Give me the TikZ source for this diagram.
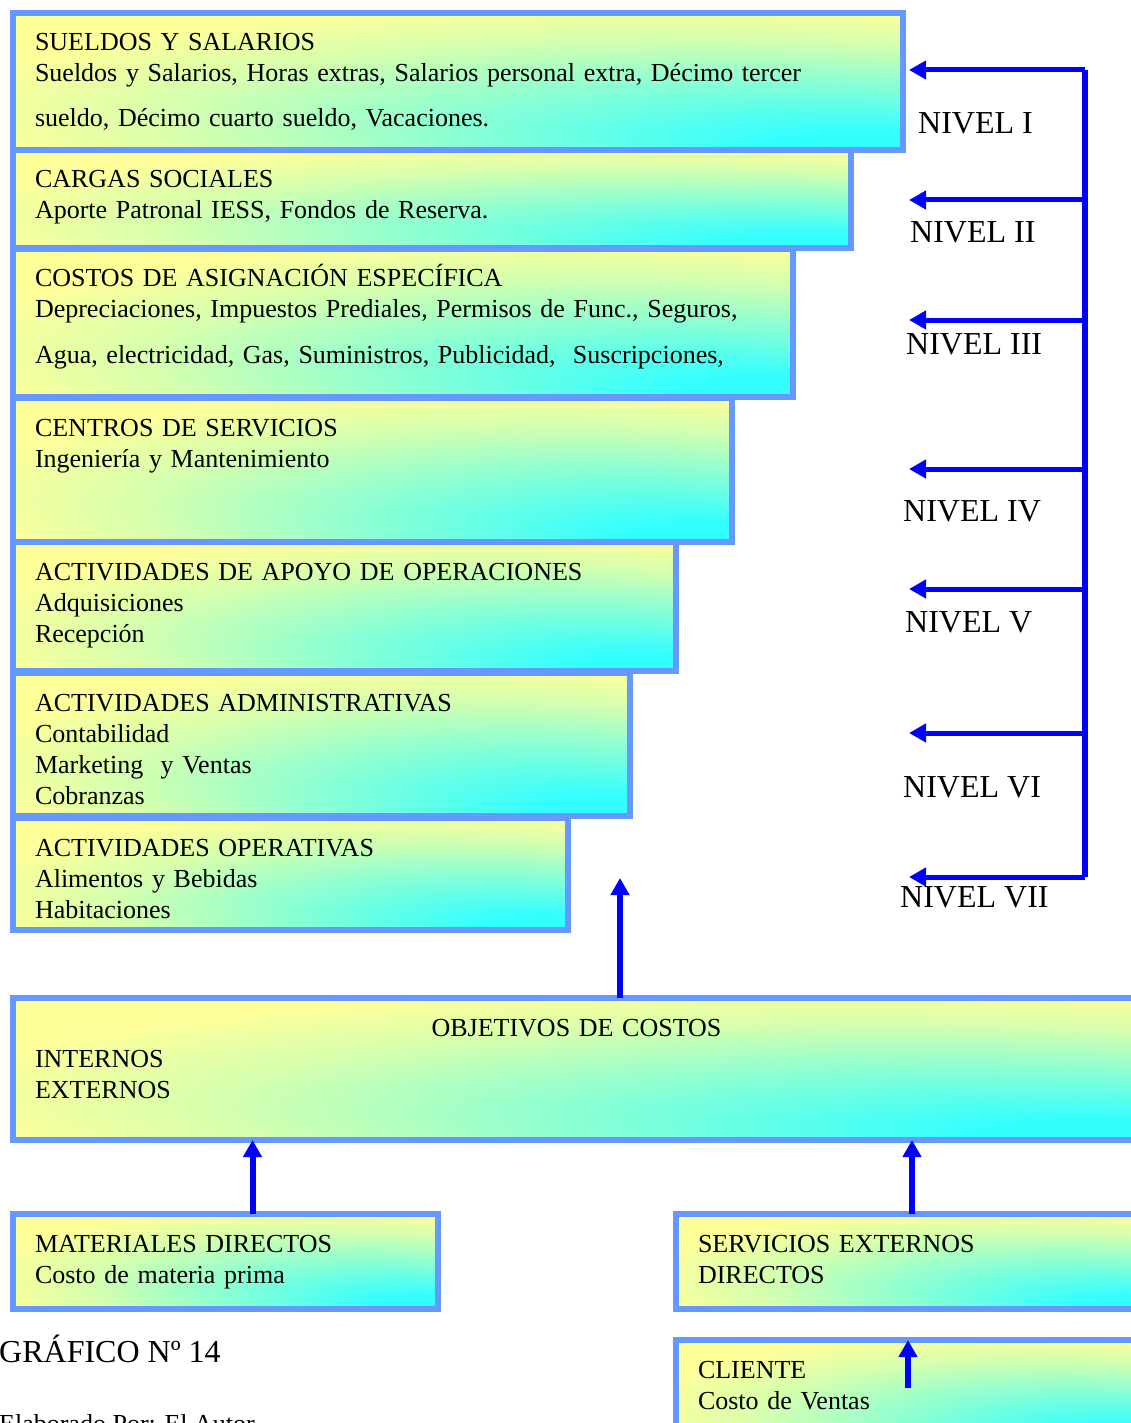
\documentclass[tikz,border=0pt]{standalone}
\usepackage{fontspec}
\setmainfont{Liberation Serif}
\usetikzlibrary{arrows.meta}

\definecolor{amarillo}{HTML}{FFFF99}
\definecolor{cian}{HTML}{33FFFF}
\definecolor{bordeazul}{HTML}{6699FF}

\pgfdeclareradialshading{nivel}{\pgfpoint{25bp}{-25bp}}{%
  color(0bp)=(cian); color(5bp)=(cian); color(20bp)=(cian!50!amarillo);
  color(29bp)=(cian!20!amarillo); color(38bp)=(amarillo); color(60bp)=(amarillo)}

\begin{document}
\begin{tikzpicture}[x=1pt,y=-1pt]

\useasboundingbox (0,0) rectangle (1131,1423);

\tikzset{%
  caja/.style 2 args={draw=bordeazul,line width=6pt,shade,shading=nivel,
    anchor=north west,outer sep=0pt,inner xsep=22pt,inner ysep=12pt,
    align=left,font=\fontsize{26}{31}\selectfont,
    text width=#1pt-44pt,text height=26pt,text depth=#2pt-50pt},
}

\node[caja={890}{137}] (sueldos) at (13,13) {SUELDOS Y SALARIOS\\
  Sueldos y Salarios, Horas extras, Salarios personal extra, Décimo tercer\\[14pt]
  sueldo, Décimo cuarto sueldo, Vacaciones.};
\node[caja={838}{98}] (cargas) at (13,150) {CARGAS SOCIALES\\
  Aporte Patronal IESS, Fondos de Reserva.};
\node[caja={780}{148}] (asignacion) at (13,249) {COSTOS DE ASIGNACIÓN ESPECÍFICA\\
  Depreciaciones, Impuestos Prediales, Permisos de Func., Seguros,\\[15pt]
  Agua, electricidad, Gas, Suministros, Publicidad,~ Suscripciones,};
\node[caja={719}{144}] (centros) at (13,398) {CENTROS DE SERVICIOS\\
  Ingeniería y Mantenimiento};
\node[caja={663}{129}] (apoyo) at (13,542) {ACTIVIDADES DE APOYO DE OPERACIONES\\
  Adquisiciones\\Recepción};
\node[caja={617}{143}] (admin) at (13,673) {ACTIVIDADES ADMINISTRATIVAS\\
  Contabilidad\\Marketing~ y Ventas\\Cobranzas};
\node[caja={555}{112}] (operativas) at (13,818) {ACTIVIDADES OPERATIVAS\\
  Alimentos y Bebidas\\Habitaciones};

\node[caja={1127}{142}] (objetivos) at (13,998) {%
  \makebox[\linewidth]{OBJETIVOS DE COSTOS}\\INTERNOS\\EXTERNOS};
\node[caja={425}{95}] (materiales) at (13,1214) {MATERIALES DIRECTOS\\
  Costo de materia prima};
\node[caja={472}{95}] (externos) at (676,1214) {SERVICIOS EXTERNOS\\DIRECTOS};
\node[caja={472}{100}] (cliente) at (676,1340) {CLIENTE\\Costo de Ventas};

\tikzset{flecha/.style={draw=blue,line width=6pt,-{Triangle[length=17pt,width=18pt]}}}
\tikzset{rama/.style={flecha,line width=5pt}}

\foreach \n/\y in {1/70,2/200,3/320,4/469,5/589,6/733,7/877} {
  \coordinate (eje\n) at (1085,\y);
  \coordinate (punta\n) at (909,\y);
}
\draw[draw=blue,line width=6pt] (eje1) -- (eje7);
\foreach \n in {1,...,7}
  \draw[rama] (eje\n) -- (punta\n);

\tikzset{nivel/.style={anchor=base west,inner sep=0pt,font=\fontsize{32}{38}\selectfont}}
\foreach \n/\t/\x/\y in {1/I/918/134,2/II/910/243,3/III/906/354,4/IV/903/521,
    5/V/905/632,6/VI/903/797,7/VII/900/907}
  \node[nivel] (nivel\n) at (\x,\y) {NIVEL \t};

\coordinate (puntaobj) at (620,878);
\draw[flecha] (objetivos.north -| puntaobj) -- (puntaobj);
\draw[flecha] ([xshift=27pt]materiales.north) -- ([xshift=27pt]materiales.north |- objetivos.south);
\draw[flecha] (externos.north) -- (externos.north |- objetivos.south);
\coordinate (colacli) at (908,1388);
\draw[flecha] (colacli) -- (colacli |- cliente.north);

\node[nivel] (grafico) at (-1,1362) {GRÁFICO Nº 14};
\node[anchor=base west,inner sep=0pt,font=\fontsize{26}{31}\selectfont] (autor)
  at (-1,1432) {Elaborado Por: El Autor};

\end{tikzpicture}
\end{document}
